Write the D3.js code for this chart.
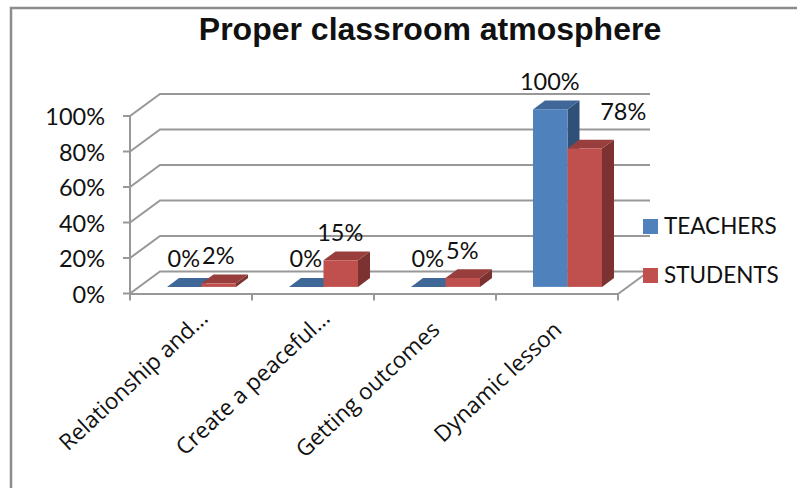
<!DOCTYPE html>
<html>
<head>
<meta charset="utf-8">
<script src="https://cdn.jsdelivr.net/npm/d3@7"></script>
<style>
html,body{margin:0;padding:0;background:#fff;}
svg{display:block;}
text{font-family:Lato,"Open Sans",sans-serif;fill:#111;}
</style>
</head>
<body>
<svg id="chart" width="797" height="488"></svg>
<script>
const chartTitle = "Proper classroom atmosphere";
const categories = ["Relationship and...", "Create  a peaceful...", "Getting outcomes", "Dynamic lesson"];
const seriesNames = ["TEACHERS", "STUDENTS"];
const teachers = [0, 0, 0, 100];
const students = [2, 15, 5, 78];
const yTicks = [0, 20, 40, 60, 80, 100];
const palette = {
  TEACHERS: {front: "#4f81bd", top: "#3f6797", side: "#2f5178"},
  STUDENTS: {front: "#c0504d", top: "#983f3d", side: "#7c3230"}
};

const svg = d3.select("#chart");
const grid = "#989898";

// Front plane of the 3D box
const x = d3.scaleBand().domain(categories).range([130, 618]);
const y = d3.scaleLinear().domain([0, 100]).range([293.5, 116]);
const inner = d3.scaleBand().domain(seriesNames).range([0, 69]);

// Oblique projection: depth 0 is the front plane, depth 1 the back wall
const depthX = 30, depthY = -22;
const project = (px, py, d) => [px + depthX * d, py + depthY * d];
const barDepthStart = 0.3, barDepthEnd = 0.7;
const line = d3.line();

// Outer frame
svg.append("path")
  .attr("d", "M11,488V8H797")
  .attr("fill", "none").attr("stroke", "#8c8c8c").attr("stroke-width", 2.5);

svg.append("text")
  .attr("x", 430).attr("y", 40).attr("text-anchor", "middle")
  .style("font-family", "'Liberation Sans',Arial,sans-serif")
  .style("font-weight", "bold").style("font-size", "32px")
  .text(chartTitle);

// Walls and floor
const walls = svg.append("g").attr("fill", "none").attr("stroke", grid).attr("stroke-width", 2);
yTicks.forEach(t => {
  const py = y(t);
  const back = project(130, py, 1);
  walls.append("path").attr("d", line([[123, py], [130, py], back, [650, back[1]]]));
});
walls.append("path").attr("d", line([[130, y(100)], [130, y(0)]]));
walls.append("path").attr("d", line([[130, y(0) + 0.5], [618, y(0) + 0.5]]));
walls.append("path").attr("d", line([[618, y(0) + 0.5], project(618, y(0) + 0.5, 0.92)]));
[...categories.map(c => x(c)), 618].forEach(px => {
  walls.append("path").attr("d", line([[px, y(0)], [px, y(0) + 7]]));
});

// Axis labels; truncated category names run further past the anchor
svg.append("g").selectAll("text").data(yTicks).join("text")
  .attr("x", 105).attr("y", d => y(d) + 9).attr("text-anchor", "end")
  .style("font-size", "23.5px").text(d => d + "%");

svg.append("g").selectAll("text").data(categories).join("text")
  .attr("text-anchor", "end")
  .style("font-family", "'Open Sans',sans-serif").style("font-size", "22.5px")
  .attr("dx", c => c.endsWith("...") ? 17 : 0)
  .attr("transform", c => `translate(${x(c) + x.bandwidth() / 2 + 6},${y(0) + 38}) rotate(-43)`)
  .text(c => c);

// Extruded bars, drawn series by series so each one overlaps the previous
const rows = [];
seriesNames.forEach((name, s) => {
  const values = s === 0 ? teachers : students;
  categories.forEach((c, i) => rows.push({name, c, value: values[i]}));
});
const bandW = inner.bandwidth();
const barLeft = d => x(d.c) + (x.bandwidth() - 69) / 2 + 11 + inner(d.name);
const bars = svg.append("g");
rows.sort((a, b) => d3.ascending(categories.indexOf(a.c), categories.indexOf(b.c)));
rows.forEach(d => {
  const col = palette[d.name];
  const x0 = barLeft(d) - 0.5, x1 = x0 + bandW;
  const base = y(0) + depthY * barDepthStart;
  const top = y(d.value) + depthY * barDepthStart;
  const dx = depthX * (barDepthEnd - barDepthStart);
  const dy = depthY * (barDepthEnd - barDepthStart);
  bars.append("path").attr("fill", col.side)
    .attr("d", line([[x1, top], [x1 + dx, top + dy], [x1 + dx, base + dy], [x1, base]]) + "Z");
  bars.append("path").attr("fill", col.top)
    .attr("d", line([[x0, top], [x0 + dx, top + dy], [x1 + dx, top + dy], [x1, top]]) + "Z");
  if (d.value > 0) {
    bars.append("rect").attr("x", x0).attr("y", top).attr("width", bandW).attr("height", base - top)
      .attr("fill", col.front);
  }
});

// Value labels sit above the bars; the tall student bar pushes its label aside
const nudges = new Map([["STUDENTS|Dynamic lesson", [39, -9]]]);
svg.append("g").selectAll("text").data(rows).join("text")
  .attr("text-anchor", "middle").style("font-size", "23.5px")
  .attr("x", d => barLeft(d) + bandW / 2 - 1 + (nudges.get(d.name + "|" + d.c) || [0, 0])[0])
  .attr("y", d => y(d.value) + depthY * barDepthStart - 19.5 + (nudges.get(d.name + "|" + d.c) || [0, 0])[1])
  .text(d => d.value + "%");

// Legend
const legendY = d3.scalePoint().domain(seriesNames).range([219, 268]);
const legend = svg.append("g").selectAll("g").data(seriesNames).join("g")
  .attr("transform", n => `translate(643,${legendY(n)})`);
legend.append("rect").attr("width", 15).attr("height", 15).attr("fill", n => palette[n].front);
legend.append("text").attr("x", 21).attr("y", 14.5).style("font-size", "22.5px").text(n => n);
</script>
</body>
</html>
